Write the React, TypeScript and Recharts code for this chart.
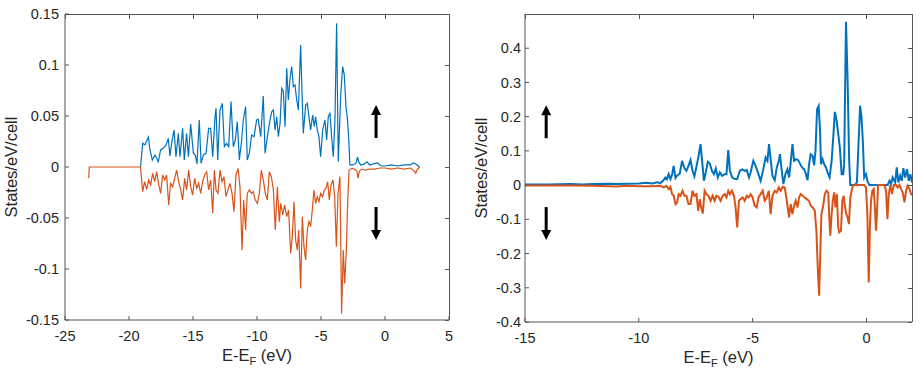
import { Line, LineChart, ReferenceLine, XAxis, YAxis } from "recharts"

const FONT = '"Liberation Sans", Arial, Helvetica, sans-serif'
const INK = "#262626"
const BOX = "#555555"
const UP_COLOR = "#0072BD"
const DOWN_COLOR = "#D95319"

// [E - E_F (eV), states/eV/cell]
const leftSpinUp = [
  [-19.1, 0], [-18.93, 0.0232], [-18.75, 0.0217], [-18.49, 0.0293], [-18.36, 0.0167],
  [-18.18, 0.0069], [-17.97, 0.0118], [-17.71, 0.0052], [-17.53, 0.0167], [-17.32, 0.0183],
  [-17.11, 0.0216], [-16.93, 0.0281], [-16.8, 0.0108], [-16.67, 0.0232], [-16.48, 0.0363],
  [-16.33, 0.0101], [-16.15, 0.033], [-16.02, 0.0101], [-15.81, 0.0379], [-15.68, 0.0069],
  [-15.5, 0.033], [-15.36, 0.0101], [-15.18, 0.0422], [-14.97, 0.0134], [-14.82, 0.0118],
  [-14.69, 0.003], [-14.51, 0.0461], [-14.37, 0.0036], [-14.19, 0.0118], [-13.98, 0.0134],
  [-13.78, 0.0379], [-13.62, 0.0379], [-13.46, 0.0101], [-13.28, 0.0493], [-13.2, 0.0575],
  [-13.07, 0.0069], [-12.89, 0.0559], [-12.71, 0.0624], [-12.55, 0.0199], [-12.37, 0.0232],
  [-12.21, 0.0199], [-12.03, 0.0641], [-11.85, 0.0199], [-11.69, 0.0265], [-11.54, 0.0444],
  [-11.38, 0.0069], [-11.2, 0.0265], [-11.07, 0.0461], [-10.89, 0.0591], [-10.76, 0.0069],
  [-10.6, 0.0134], [-10.42, 0.0314], [-10.23, 0.0297], [-10.03, 0.0461], [-9.9, 0.0467],
  [-9.71, 0.0297], [-9.51, 0.0696], [-9.37, 0.0134], [-9.19, 0.0297], [-8.98, 0.0461],
  [-8.85, 0.0542], [-8.72, 0.0559], [-8.59, 0.0363], [-8.46, 0.0493], [-8.33, 0.0297],
  [-8.2, 0.0428], [-8.07, 0.0771], [-7.94, 0.0739], [-7.81, 0.0395], [-7.68, 0.0967],
  [-7.55, 0.0657], [-7.42, 0.087], [-7.29, 0.0984], [-7.16, 0.0788], [-7.03, 0.0804],
  [-6.9, 0.0657], [-6.77, 0.0559], [-6.59, 0.1196], [-6.46, 0.0624], [-6.38, 0.033],
  [-6.2, 0.0608], [-6.07, 0.0624], [-5.94, 0.0493], [-5.81, 0.0363], [-5.65, 0.051],
  [-5.52, 0.0395], [-5.42, 0.0493], [-5.29, 0.0363], [-5.16, 0.0297], [-5.03, 0.0101],
  [-4.87, 0.0363], [-4.69, 0.0461], [-4.56, 0.0265], [-4.43, 0.0493], [-4.3, 0.0526],
  [-4.17, 0.0297], [-4.04, 0.0101], [-3.91, 0.0461], [-3.78, 0.1408], [-3.65, 0.0052],
  [-3.46, 0.0706], [-3.31, 0.0984], [-3.18, 0.0902], [-3.05, 0.0591], [-2.94, 0.0477],
  [-2.84, 0.0297], [-2.74, 0.002], [-2.5, 0.002], [-2.25, 0.004], [-2.15, 0.01],
  [-2.05, 0.005], [-1.9, 0.002], [-1.6, 0.003], [-1.4, 0.005], [-1.2, 0.002],
  [-0.9, 0.003], [-0.6, 0.004], [-0.3, 0.001], [0, 0.001], [0.5, 0.002],
  [1, 0.001], [1.5, 0.002], [2, 0.002], [2.2, 0.004], [2.4, 0.003], [2.7, 0],
]

const leftSpinDown = [
  [-23.15, -0.011], [-23.1, 0], [-19.1, 0],
  [-18.93, -0.0242], [-18.78, -0.0144], [-18.62, -0.022], [-18.46, -0.0127], [-18.31, -0.0176],
  [-18.15, -0.0062], [-17.99, -0.0144], [-17.84, -0.0046], [-17.68, -0.0176], [-17.53, -0.0258],
  [-17.37, -0.0078], [-17.21, -0.0127], [-17.06, -0.0078], [-16.9, -0.0372], [-16.75, -0.016],
  [-16.59, -0.0193], [-16.43, -0.0111], [-16.28, -0.003], [-16.12, -0.0144], [-15.96, -0.0225],
  [-15.81, -0.0324], [-15.65, -0.0111], [-15.5, -0.0225], [-15.34, -0.003], [-15.18, -0.0193],
  [-15.03, -0.0275], [-14.87, -0.0111], [-14.71, -0.0209], [-14.56, -0.016], [-14.4, -0.0258],
  [-14.25, -0.0144], [-14.09, -0.0078], [-13.93, -0.0046], [-13.78, -0.0225], [-13.62, -0.0127],
  [-13.46, -0.0454], [-13.33, -0.003], [-13.2, -0.0225], [-13.05, -0.0258], [-12.89, -0.003],
  [-12.73, -0.0144], [-12.58, -0.0095], [-12.42, -0.0291], [-12.27, -0.0225], [-12.11, -0.016],
  [-11.95, -0.0258], [-11.8, -0.0438], [-11.64, -0.0078], [-11.48, -0.0013], [-11.33, -0.0193],
  [-11.17, -0.0814], [-11.04, -0.0324], [-10.89, -0.0618], [-10.76, -0.0258], [-10.6, -0.0225],
  [-10.44, -0.0258], [-10.29, -0.0242], [-10.13, -0.0324], [-9.97, -0.0356], [-9.82, -0.0258],
  [-9.66, -0.003], [-9.51, -0.0127], [-9.35, -0.0258], [-9.19, -0.0324], [-9.04, -0.0046],
  [-8.88, -0.0095], [-8.72, -0.0225], [-8.57, -0.0618], [-8.41, -0.0193], [-8.26, -0.0536],
  [-8.15, -0.0356], [-7.99, -0.047], [-7.84, -0.0372], [-7.68, -0.0487], [-7.53, -0.0422],
  [-7.37, -0.0846], [-7.24, -0.0683], [-7.11, -0.034], [-6.98, -0.0716], [-6.85, -0.0814],
  [-6.74, -0.0618], [-6.59, -0.119], [-6.46, -0.0487], [-6.33, -0.0781], [-6.2, -0.0912],
  [-6.07, -0.0618], [-5.94, -0.0536], [-5.81, -0.0585], [-5.68, -0.0422], [-5.55, -0.0225],
  [-5.42, -0.0356], [-5.29, -0.0291], [-5.16, -0.034], [-5.03, -0.0258], [-4.87, -0.0291],
  [-4.74, -0.0225], [-4.61, -0.0209], [-4.48, -0.0144], [-4.35, -0.0324], [-4.22, -0.0176],
  [-4.06, -0.0127], [-3.93, -0.0291], [-3.8, -0.0781], [-3.67, -0.0258], [-3.52, -0.0095],
  [-3.39, -0.1435], [-3.26, -0.0814], [-3.15, -0.1141], [-3.02, -0.0814], [-2.92, -0.0356],
  [-2.81, -0.003], [-2.6, -0.0013], [-2.4, -0.002], [-2.2, -0.004], [-2.1, -0.011],
  [-2, -0.004], [-1.8, -0.002], [-1.5, -0.003], [-1.2, -0.002], [-0.8, -0.002],
  [-0.4, -0.001], [0, -0.001], [0.5, -0.002], [1, -0.001], [1.5, -0.002],
  [2, -0.001], [2.3, -0.004], [2.4, -0.006], [2.5, -0.003], [2.7, 0],
]

const rightSpinUp = [
  [-15, 0.002], [-14, 0.002], [-13, 0.003], [-12.5, 0.002], [-12, 0.003],
  [-11.3, 0.004], [-11, 0.003], [-10.5, 0.004], [-10, 0.005], [-9.7, 0.007],
  [-9.4, 0.005], [-9.2, 0.008], [-9.05, 0.006], [-8.94, 0.0127], [-8.83, 0.0224],
  [-8.76, 0.0175], [-8.69, 0.032], [-8.61, 0.0175], [-8.54, 0.03], [-8.47, 0.0564],
  [-8.39, 0.0204], [-8.32, 0.0273], [-8.2, 0.034], [-8.1, 0.071], [-8, 0.0496],
  [-7.91, 0.0418], [-7.82, 0.0564], [-7.73, 0.073], [-7.64, 0.0418], [-7.56, 0.0253],
  [-7.47, 0.0535], [-7.36, 0.0906], [-7.29, 0.1197], [-7.22, 0.071], [-7.14, 0.0127],
  [-7.06, 0.037], [-6.97, 0.068], [-6.88, 0.063], [-6.79, 0.0418], [-6.7, 0.032],
  [-6.62, 0.0487], [-6.53, 0.0224], [-6.44, 0.037], [-6.34, 0.0273], [-6.23, 0.032],
  [-6.15, 0.032], [-6.07, 0.1022], [-6, 0.0418], [-5.9, 0.0224], [-5.79, 0.0175],
  [-5.68, 0.0175], [-5.56, 0.0418], [-5.46, 0.0457], [-5.35, 0.0418], [-5.26, 0.0438],
  [-5.16, 0.0224], [-5.09, 0.037], [-4.97, 0.071], [-4.87, 0.0564], [-4.77, 0.037],
  [-4.65, 0.0127], [-4.53, 0.0467], [-4.43, 0.0808], [-4.35, 0.071], [-4.28, 0.1197],
  [-4.13, 0.0273], [-4.03, 0.0146], [-3.94, 0.0516], [-3.85, 0.071], [-3.8, 0.0906],
  [-3.72, 0.0418], [-3.65, 0.003], [-3.56, 0.032], [-3.47, 0.0467], [-3.4, 0.0224],
  [-3.33, 0.066], [-3.25, 0.1197], [-3.18, 0.071], [-3.09, 0.0759], [-3, 0.073],
  [-2.91, 0.0613], [-2.83, 0.0516], [-2.74, 0.0467], [-2.67, 0.034], [-2.59, 0.0146],
  [-2.52, 0.0613], [-2.45, 0.0905], [-2.37, 0.0856], [-2.3, 0.058], [-2.24, 0.1],
  [-2.17, 0.222], [-2.1, 0.2316], [-2.04, 0.16], [-2, 0.0613], [-1.93, 0.0759],
  [-1.86, 0.0613], [-1.78, 0.0516], [-1.71, 0.037], [-1.62, 0.0224], [-1.53, 0.071],
  [-1.45, 0.149], [-1.39, 0.214], [-1.31, 0.188], [-1.24, 0.149], [-1.17, 0.11],
  [-1.09, 0.032], [-1.02, 0.032], [-0.98, 0.0613], [-0.9, 0.477], [-0.83, 0.31],
  [-0.76, 0.07], [-0.71, 0], [-0.6, 0], [-0.51, 0],
  [-0.42, 0.0078], [-0.35, 0.12], [-0.28, 0.232], [-0.22, 0.2], [-0.16, 0.13],
  [-0.1, 0.022], [-0.02, 0.032], [0.05, 0.01], [0.13, 0], [0.93, 0], [1.01, 0.0127],
  [1.08, 0.003], [1.15, 0.0224], [1.26, 0.0078], [1.33, 0.0516], [1.4, 0.0078],
  [1.48, 0.0273], [1.55, 0.0127], [1.62, 0.0496], [1.7, 0.0224], [1.78, 0.0467],
  [1.86, 0.0127], [1.93, 0.032], [2, 0.0078], [2.08, 0.0418],
]

const rightSpinDown = [
  [-15, -0.001], [-13, -0.001], [-12, -0.002], [-11, -0.004], [-10.5, -0.002],
  [-10, -0.003], [-9.5, -0.003], [-9.05, -0.002], [-8.91, -0.0068], [-8.79, -0.002],
  [-8.69, -0.0117], [-8.61, -0.0049], [-8.54, -0.0263], [-8.47, -0.0311], [-8.39, -0.0555],
  [-8.32, -0.0506], [-8.25, -0.0263], [-8.17, -0.0311], [-8.08, -0.0165], [-8, -0.0311],
  [-7.91, -0.0311], [-7.82, -0.0555], [-7.73, -0.0555], [-7.64, -0.0165], [-7.56, -0.0311],
  [-7.47, -0.0263], [-7.39, -0.075], [-7.32, -0.0409], [-7.26, -0.0652], [-7.19, -0.0827],
  [-7.11, -0.0165], [-7.03, -0.0263], [-6.94, -0.0311], [-6.85, -0.0457], [-6.76, -0.0311],
  [-6.67, -0.0457], [-6.59, -0.0311], [-6.5, -0.034], [-6.41, -0.0457], [-6.32, -0.0311],
  [-6.23, -0.0263], [-6.15, -0.036], [-6.07, -0.0165], [-6, -0.0263], [-5.91, -0.0165],
  [-5.82, -0.0311], [-5.75, -0.0652], [-5.68, -0.1236], [-5.6, -0.0457], [-5.53, -0.0409],
  [-5.44, -0.036], [-5.35, -0.0457], [-5.26, -0.0311], [-5.18, -0.036], [-5.09, -0.0263],
  [-5, -0.036], [-4.91, -0.0603], [-4.82, -0.0652], [-4.74, -0.036], [-4.65, -0.0263],
  [-4.56, -0.0165], [-4.47, -0.0457], [-4.38, -0.036], [-4.29, -0.0165], [-4.21, -0.0847],
  [-4.13, -0.0311], [-4.03, -0.0165], [-3.94, -0.0214], [-3.85, -0.0068], [-3.77, -0.0165],
  [-3.68, -0.0049], [-3.59, -0.0068], [-3.5, -0.0457], [-3.4, -0.0944], [-3.33, -0.0555],
  [-3.25, -0.0847], [-3.18, -0.0603], [-3.11, -0.0457], [-3.03, -0.0652], [-2.96, -0.036],
  [-2.89, -0.0263], [-2.8, -0.0311], [-2.71, -0.036], [-2.62, -0.0409], [-2.53, -0.0457],
  [-2.45, -0.0603], [-2.36, -0.0652], [-2.27, -0.075], [-2.2, -0.1333], [-2.14, -0.2404],
  [-2.08, -0.3231], [-2.02, -0.182], [-1.98, -0.0847], [-1.9, -0.0603], [-1.83, -0.0263],
  [-1.76, -0.0165], [-1.68, -0.0214], [-1.64, -0.0847], [-1.59, -0.1479], [-1.53, -0.0847],
  [-1.48, -0.0457], [-1.42, -0.0214], [-1.36, -0.0652], [-1.3, -0.0263], [-1.24, -0.1236],
  [-1.2, -0.1382], [-1.12, -0.1333], [-1.06, -0.0457], [-1, -0.0311], [-0.95, -0.0603],
  [-0.89, -0.0847], [-0.83, -0.0944], [-0.77, -0.1139], [-0.71, -0.036], [-0.65, -0.0165],
  [-0.6, -0.002], [-0.51, 0], [-0.42, 0], [-0.33, 0], [-0.24, 0],
  [-0.1, 0], [-0.02, -0.0068], [0.04, -0.0847], [0.1, -0.2842], [0.15, -0.1236],
  [0.2, -0.0457], [0.26, -0.0165], [0.32, -0.0117], [0.37, -0.0652], [0.42, -0.1333],
  [0.46, -0.0847], [0.51, 0], [0.64, 0], [0.79, 0], [0.86, -0.0165],
  [0.92, -0.0993], [0.98, -0.0263], [1.05, 0], [1.12, -0.0263], [1.2, 0],
  [1.3, 0], [1.37, -0.0068], [1.45, 0], [1.52, -0.0117], [1.59, -0.0214],
  [1.67, -0.0506], [1.74, -0.0165], [1.81, -0.002], [1.89, -0.0117], [1.96, -0.0263],
  [2.08, -0.0311],
]

const leftXTicks = [-25, -20, -15, -10, -5, 0, 5]
const leftYTicks = [-0.15, -0.1, -0.05, 0, 0.05, 0.1, 0.15]
const rightXTicks = [-15, -10, -5, 0]
const rightYTicks = [-0.4, -0.3, -0.2, -0.1, 0, 0.1, 0.2, 0.3, 0.4]

// spin arrows: [energy, tail, tip]
const leftArrowUp = [-0.7, 0.0284, 0.0608]
const leftArrowDown = [-0.7, -0.0392, -0.0716]
const rightArrowUp = [-14.07, 0.137, 0.2336]
const rightArrowDown = [-14.07, -0.0642, -0.1606]

const PLOT_LEFT = 65
const PLOT_TOP = 14

const toPoints = (rows: number[][]) => rows.map(([e, v]) => ({ e, v }))

function SpinArrow(props: any) {
  const { x1, y1, x2, y2 } = props
  const dir = y2 < y1 ? -1 : 1
  const base = y2 - dir * 10
  return (
    <g>
      <line x1={x1} y1={y1} x2={x2} y2={base} stroke="#000" strokeWidth={3} />
      <polygon points={`${x2},${y2} ${x2 - 5},${base} ${x2 + 5},${base}`} fill="#000" />
    </g>
  )
}

function XTitle(props: any) {
  const vb = props.viewBox || props
  const cx = vb.x + vb.width / 2
  const y = vb.y + 41
  return (
    <text x={cx} y={y} textAnchor="middle" fontFamily={FONT} fontSize={16.5} fill={INK}>
      E-E
      <tspan fontSize={11} dy={4}>F</tspan>
      <tspan dy={-4}>{"\u00a0(eV)"}</tspan>
    </text>
  )
}

const yTitle = (x: number) => (props: any) => {
  const vb = props.viewBox || props
  const cy = vb.y + vb.height / 2
  return (
    <text
      x={x}
      y={cy}
      transform={`rotate(-90 ${x} ${cy})`}
      textAnchor="middle"
      dominantBaseline="central"
      fontFamily={FONT}
      fontSize={16.5}
      fill={INK}
    >
      States/eV/cell
    </text>
  )
}

interface PanelProps {
  width: number
  plotRight: number
  plotBottom: number
  up: number[][]
  down: number[][]
  xDomain: [number, number]
  xTicks: number[]
  yDomain: [number, number]
  yTicks: number[]
  lineWidth: number
  yTickGap: number
  yTitleX: number
  arrowUp: number[]
  arrowDown: number[]
}

// top and right edges of the box (css borders) with inward ticks, laid over the chart
function BoxFrame(p: PanelProps) {
  const [x0, x1] = p.xDomain
  const [y0, y1] = p.yDomain
  const w = p.plotRight - PLOT_LEFT
  const h = p.plotBottom - PLOT_TOP
  return (
    <div
      style={{
        position: "absolute",
        left: PLOT_LEFT,
        top: PLOT_TOP,
        width: w + 1,
        height: h,
        boxSizing: "border-box",
        borderTop: `1px solid ${BOX}`,
        borderRight: `1px solid ${BOX}`,
        pointerEvents: "none",
        zIndex: 5,
      }}
    >
      {p.xTicks.map((t) => (
        <div
          key={`x${t}`}
          style={{
            position: "absolute",
            left: Math.round(((t - x0) / (x1 - x0)) * w),
            top: 0,
            width: 1,
            height: 4,
            background: BOX,
          }}
        />
      ))}
      {p.yTicks.map((t) => (
        <div
          key={`y${t}`}
          style={{
            position: "absolute",
            right: 0,
            top: Math.round(((y1 - t) / (y1 - y0)) * h) - 1,
            width: 4,
            height: 1,
            background: BOX,
          }}
        />
      ))}
    </div>
  )
}

function DosPanel(p: PanelProps) {
  const tickStyle = { fill: INK, fontSize: 14.5, fontFamily: FONT }
  return (
    <div style={{ position: "relative", width: p.width, height: 372 }}>
      <LineChart
        width={p.width}
        height={372}
        margin={{ top: PLOT_TOP, right: p.width - p.plotRight, bottom: 0, left: 0 }}
      >
        <XAxis
          type="number"
          dataKey="e"
          domain={p.xDomain}
          ticks={p.xTicks}
          allowDataOverflow
          height={372 - p.plotBottom}
          tickSize={-4}
          tickMargin={15}
          stroke={BOX}
          tick={tickStyle}
          label={XTitle}
        />
        <YAxis
          type="number"
          domain={p.yDomain}
          ticks={p.yTicks}
          allowDataOverflow
          width={PLOT_LEFT}
          tickSize={-4}
          tickMargin={p.yTickGap}
          stroke={BOX}
          tick={tickStyle}
          label={yTitle(p.yTitleX)}
        />
        <Line
          data={toPoints(p.up)}
          dataKey="v"
          type="linear"
          stroke={UP_COLOR}
          strokeWidth={p.lineWidth}
          dot={false}
          activeDot={false}
          isAnimationActive={false}
        />
        <Line
          data={toPoints(p.down)}
          dataKey="v"
          type="linear"
          stroke={DOWN_COLOR}
          strokeWidth={p.lineWidth}
          dot={false}
          activeDot={false}
          isAnimationActive={false}
        />
        <ReferenceLine
          segment={[
            { x: p.arrowUp[0], y: p.arrowUp[1] },
            { x: p.arrowUp[0], y: p.arrowUp[2] },
          ]}
          shape={SpinArrow}
        />
        <ReferenceLine
          segment={[
            { x: p.arrowDown[0], y: p.arrowDown[1] },
            { x: p.arrowDown[0], y: p.arrowDown[2] },
          ]}
          shape={SpinArrow}
        />
      </LineChart>
      <BoxFrame {...p} />
    </div>
  )
}

export default function App() {
  return (
    <div style={{ position: "absolute", left: 0, top: 0, width: 924, height: 372, background: "#fff" }}>
      <div style={{ position: "absolute", left: 0, top: 0 }}>
        <DosPanel
          width={460}
          plotRight={449}
          plotBottom={320}
          up={leftSpinUp}
          down={leftSpinDown}
          xDomain={[-25, 5]}
          xTicks={leftXTicks}
          yDomain={[-0.15, 0.15]}
          yTicks={leftYTicks}
          lineWidth={1.2}
          yTickGap={10}
          yTitleX={11}
          arrowUp={leftArrowUp}
          arrowDown={leftArrowDown}
        />
      </div>
      <div style={{ position: "absolute", left: 460, top: 0 }}>
        <DosPanel
          width={464}
          plotRight={452}
          plotBottom={322}
          up={rightSpinUp}
          down={rightSpinDown}
          xDomain={[-15, 2]}
          xTicks={rightXTicks}
          yDomain={[-0.4, 0.5]}
          yTicks={rightYTicks}
          lineWidth={2}
          yTickGap={8}
          yTitleX={21}
          arrowUp={rightArrowUp}
          arrowDown={rightArrowDown}
        />
      </div>
    </div>
  )
}
